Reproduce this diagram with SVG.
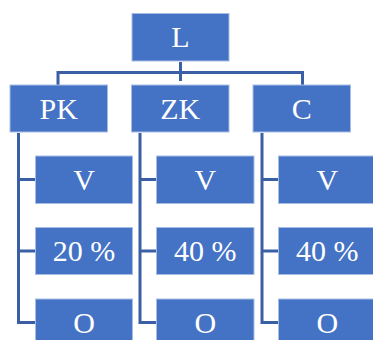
<svg xmlns="http://www.w3.org/2000/svg" width="373" height="340" viewBox="0 0 373 340">
<style>
.box{fill:#4472C4;stroke:#A8BDE4;stroke-width:1}
.t{font-family:"Liberation Serif","Times New Roman",serif;font-size:30px;fill:#FFFFFF;text-anchor:middle}
.c{fill:none;stroke:#3A5FA5;stroke-width:3}
</style>
<rect width="373" height="340" fill="#FFFFFF"/>
<g id="connectors">
<path class="c" d="M180.5 62V81M58 72.5H302.5M58 71V85M302.5 71V85"/>
<path class="c" d="M18.5 133V322.5H35M18.5 179.5H35M18.5 251H35"/>
<path class="c" d="M140 133V322.5H157M140 179.5H157M140 251H157"/>
<path class="c" d="M262 133V322.5H279M262 179.5H279M262 251H279"/>
</g>
<g id="L"><rect class="box" x="132" y="13.5" width="97" height="47.5"/><text class="t" x="180.5" y="47">L</text></g>
<g id="PK"><rect class="box" x="10" y="85" width="97.5" height="47"/><text class="t" x="58.8" y="118.5">PK</text></g>
<g id="ZK"><rect class="box" x="131.5" y="85" width="97.5" height="47"/><text class="t" x="180.3" y="118.5">ZK</text></g>
<g id="C"><rect class="box" x="253" y="85" width="97.5" height="47"/><text class="t" x="301.8" y="118.5">C</text></g>
<g id="PK-V"><rect class="box" x="35.5" y="156" width="97" height="47.5"/><text class="t" x="84" y="190">V</text></g>
<g id="PK-P"><rect class="box" x="35.5" y="227.5" width="97" height="47"/><text class="t" x="84" y="261">20 %</text></g>
<g id="PK-O"><rect class="box" x="35.5" y="299" width="97" height="47"/><text class="t" x="84" y="332.5">O</text></g>
<g id="ZK-V"><rect class="box" x="156.5" y="156" width="97.5" height="47.5"/><text class="t" x="205.3" y="190">V</text></g>
<g id="ZK-P"><rect class="box" x="156.5" y="227.5" width="97.5" height="47"/><text class="t" x="205.3" y="261">40 %</text></g>
<g id="ZK-O"><rect class="box" x="156.5" y="299" width="97.5" height="47"/><text class="t" x="205.3" y="332.5">O</text></g>
<g id="C-V"><rect class="box" x="278.5" y="156" width="97.5" height="47.5"/><text class="t" x="327.3" y="190">V</text></g>
<g id="C-P"><rect class="box" x="278.5" y="227.5" width="97.5" height="47"/><text class="t" x="327.3" y="261">40 %</text></g>
<g id="C-O"><rect class="box" x="278.5" y="299" width="97.5" height="47"/><text class="t" x="327.3" y="332.5">O</text></g>
</svg>
